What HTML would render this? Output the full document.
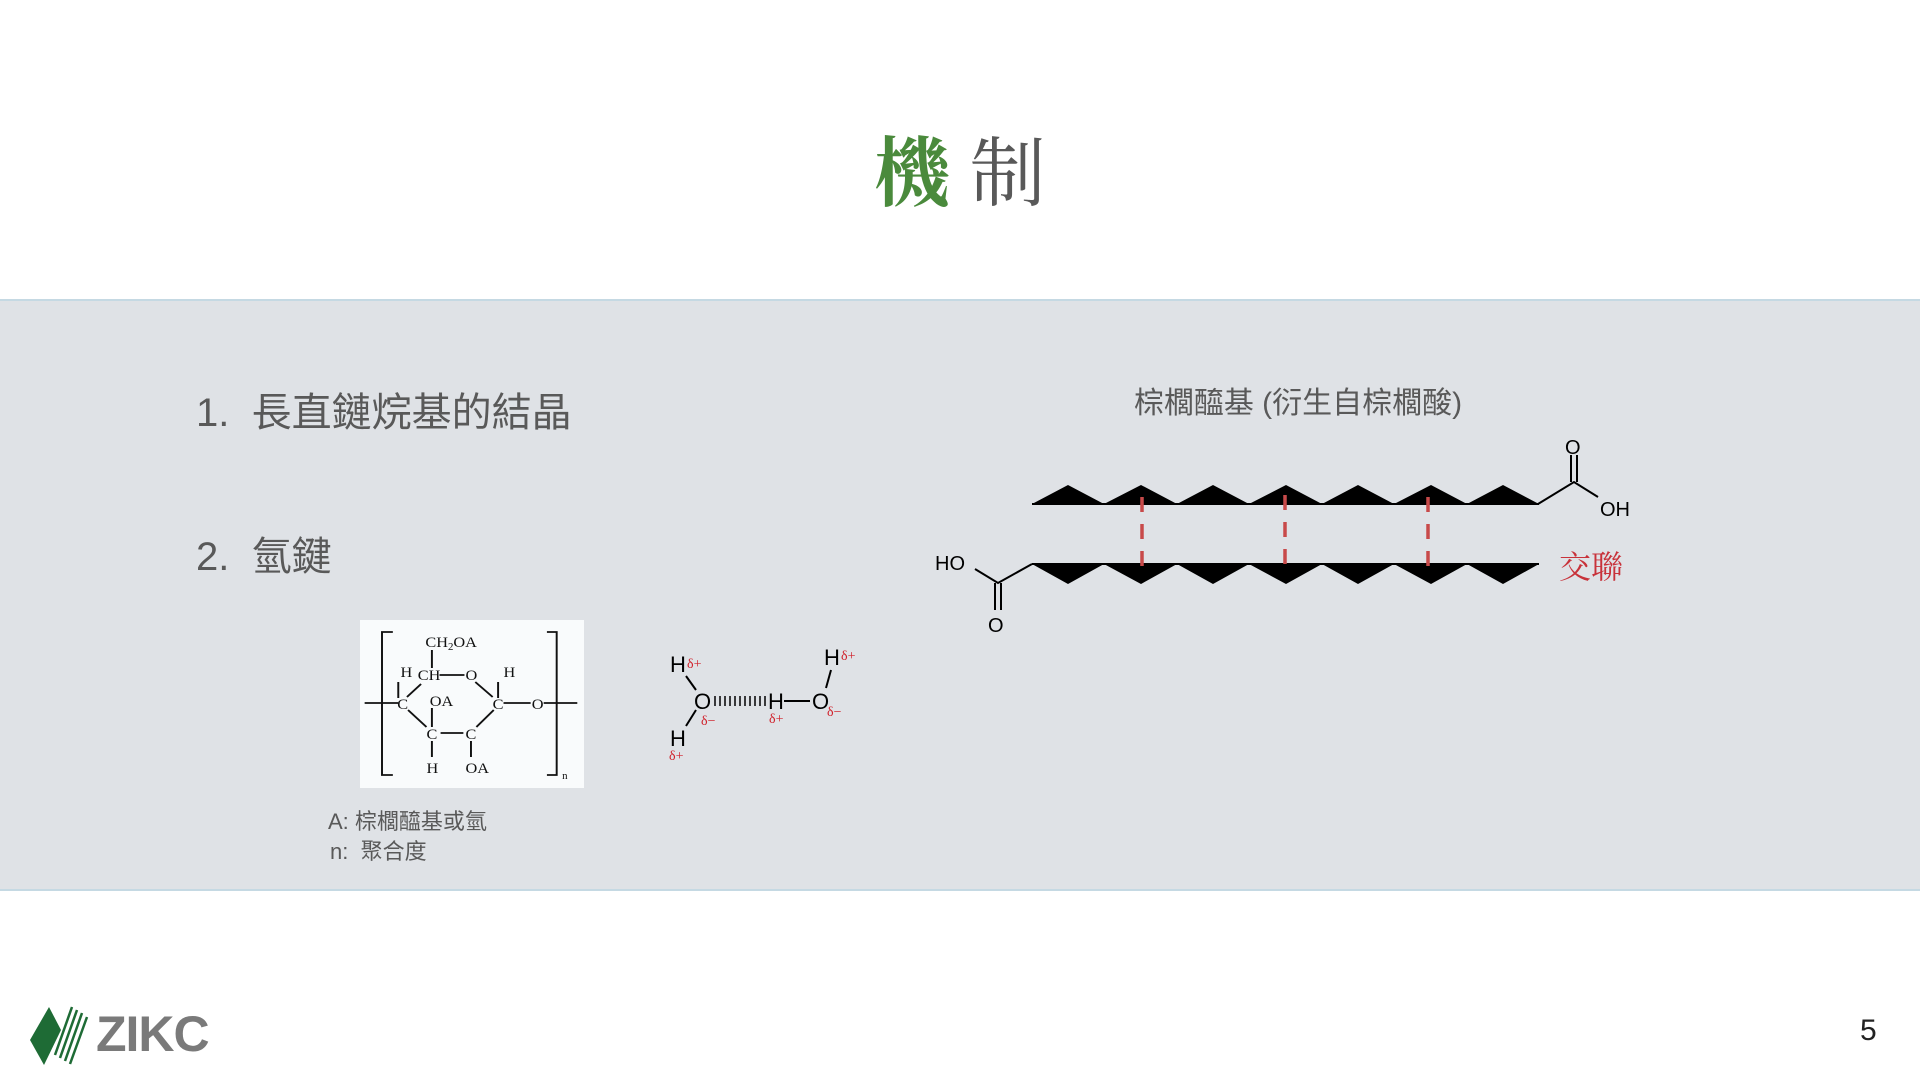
<!DOCTYPE html>
<html><head><meta charset="utf-8"><style>
body{margin:0;width:1920px;height:1080px;position:relative;background:#fff;overflow:hidden;font-family:"Liberation Sans","Noto Sans CJK TC",sans-serif;color:#595959}
.t{position:absolute;white-space:nowrap}
</style></head><body>
<div class="t" style="left:0;width:1920px;top:118px;text-align:center;font-family:'Noto Serif CJK SC',serif;font-size:76px;line-height:100px"><span style="color:#4a8a3c;font-weight:bold">機</span> <span style="color:#595959">制</span></div>
<div style="position:absolute;left:0;top:299px;width:1920px;height:588px;background:#dfe2e6;border-top:2px solid #c5d9e3;border-bottom:2px solid #c5d9e3"></div>
<div class="t" style="left:196px;top:388px;font-size:40px;line-height:50px">1.&nbsp; 長直鏈烷基的結晶</div>
<div class="t" style="left:196px;top:532px;font-size:40px;line-height:50px">2.&nbsp; 氫鍵</div>
<div style="position:absolute;left:360px;top:620px;width:224px;height:168px;background:#f9fbfc"></div>
<div class="t" style="left:328px;top:808px;font-size:22px;line-height:28px">A: 棕櫚醯基或氫</div>
<div class="t" style="left:330px;top:838px;font-size:22px;line-height:28px">n:&nbsp; 聚合度</div>
<div class="t" style="left:1098px;top:384px;width:400px;text-align:center;font-size:30px;line-height:40px">棕櫚醯基 (衍生自棕櫚酸)</div>
<div class="t" style="left:1559px;top:545px;font-size:32px;line-height:40px;color:#c8323a;font-family:'Noto Serif CJK SC',serif">交聯</div>
<div class="t" style="left:1860px;top:1013px;font-size:30px;line-height:36px;color:#222">5</div>
<div class="t" style="left:96px;top:1006px;font-size:50px;line-height:56px;font-weight:bold;color:#7a7a7a;letter-spacing:-1px">ZIKC</div>
<svg width="1920" height="1080" style="position:absolute;left:0;top:0">
<polygon points="49,1007 61,1030 44,1065 30,1040" fill="#1e6b35"/>
<g stroke="#1e6b35" stroke-width="2.5">
<line x1="72" y1="1007" x2="55" y2="1055"/><line x1="77" y1="1010" x2="60" y2="1058"/><line x1="82" y1="1013" x2="65" y2="1061"/><line x1="87" y1="1017" x2="70" y2="1064"/>
</g>
<g fill="#000">
<polygon points="1032,504 1068,485 1104,504 1141,485 1177,504 1213,485 1249,504 1286,485 1322,504 1358,485 1394,504 1431,485 1467,504 1503,485 1539,504"/>
<polygon points="1032,564 1068,584 1104,564 1141,584 1177,564 1213,584 1249,564 1286,584 1322,564 1358,584 1394,564 1431,584 1467,564 1503,584 1539,564"/>
</g>
<g stroke="#000" stroke-width="2" fill="none">
<polyline points="1032,504 1539,504"/>
<polyline points="1032,564 1539,564"/>
<polyline points="1538,504 1574,482 1598,497"/>
<line x1="1571" y1="482" x2="1571" y2="455"/><line x1="1577" y1="482" x2="1577" y2="455"/>
<polyline points="1032,564 998,583 975,569"/>
<line x1="995" y1="583" x2="995" y2="610"/><line x1="1001" y1="583" x2="1001" y2="610"/>
</g>
<g font-family="Liberation Sans,sans-serif" font-size="20" fill="#000">
<text x="1565" y="454">O</text><text x="1600" y="516">OH</text>
<text x="935" y="570">HO</text><text x="988" y="632">O</text>
</g>
<g stroke="#c84a4a" stroke-width="3.5" stroke-dasharray="15,12">
<line x1="1142" y1="497" x2="1142" y2="570"/><line x1="1285" y1="495" x2="1285" y2="570"/><line x1="1428" y1="497" x2="1428" y2="570"/>
</g>
<g transform="translate(4,0)">
<g font-family="Liberation Sans,sans-serif" fill="#000" font-size="22">
<text x="666" y="672">H</text><text x="690" y="709">O</text><text x="666" y="746">H</text>
<text x="764" y="709">H</text><text x="808" y="709">O</text><text x="820" y="665">H</text>
</g>
<g font-family="Liberation Serif,serif" fill="#d0202a" font-size="14">
<text x="683" y="668">δ+</text><text x="697" y="725">δ−</text><text x="665" y="760">δ+</text>
<text x="765" y="723">δ+</text><text x="823" y="716">δ−</text><text x="837" y="660">δ+</text>
</g>
<g stroke="#000" stroke-width="2">
<line x1="682" y1="676" x2="692" y2="690"/><line x1="692" y1="710" x2="682" y2="726"/>
<line x1="780" y1="701" x2="806" y2="701"/><line x1="827" y1="670" x2="822" y2="688"/>
</g>
<g stroke="#000" stroke-width="1.5">
<line x1="711" y1="696" x2="711" y2="706"/><line x1="716" y1="696" x2="716" y2="706"/><line x1="721" y1="696" x2="721" y2="706"/><line x1="726" y1="696" x2="726" y2="706"/><line x1="731" y1="696" x2="731" y2="706"/><line x1="736" y1="696" x2="736" y2="706"/><line x1="741" y1="696" x2="741" y2="706"/><line x1="746" y1="696" x2="746" y2="706"/><line x1="751" y1="696" x2="751" y2="706"/><line x1="756" y1="696" x2="756" y2="706"/><line x1="761" y1="696" x2="761" y2="706"/>
</g>
</g>
<g transform="translate(382,0) scale(1.085,1) translate(-382,0)">
<g stroke="#111" stroke-width="1.8" fill="none">
<polyline points="392,632 382,632 382,775 392,775"/>
<polyline points="534,632 543,632 543,775 534,775"/>
<line x1="428" y1="650" x2="428" y2="668"/>
<line x1="435" y1="675" x2="458" y2="675"/>
<line x1="397" y1="682" x2="397" y2="698"/><line x1="489" y1="682" x2="489" y2="698"/>
<line x1="366" y1="703" x2="397" y2="703"/><line x1="494" y1="703" x2="519" y2="703"/><line x1="531" y1="703" x2="562" y2="703"/>
<line x1="405" y1="697" x2="418" y2="684"/><line x1="406" y1="710" x2="423" y2="727"/>
<line x1="468" y1="682" x2="484" y2="697"/><line x1="485" y1="710" x2="469" y2="727"/>
<line x1="428" y1="708" x2="428" y2="727"/><line x1="436" y1="733" x2="457" y2="733"/>
<line x1="428" y1="741" x2="428" y2="757"/><line x1="464" y1="741" x2="464" y2="757"/>
</g>
<g font-family="Liberation Serif,serif" font-size="15" fill="#111">
<text x="422" y="647">CH<tspan font-size="10" dy="3">2</tspan><tspan dy="-3">OA</tspan></text>
<text x="399" y="677">H</text><text x="415" y="680">CH</text><text x="459" y="680">O</text><text x="494" y="677">H</text>
<text x="396" y="709">C</text><text x="426" y="706">OA</text><text x="484" y="709">C</text><text x="520" y="709">O</text>
<text x="423" y="739">C</text><text x="459" y="739">C</text>
<text x="423" y="773">H</text><text x="459" y="773">OA</text>
<text x="548" y="779" font-size="10">n</text>
</g>
</g>
</svg>
</body></html>
